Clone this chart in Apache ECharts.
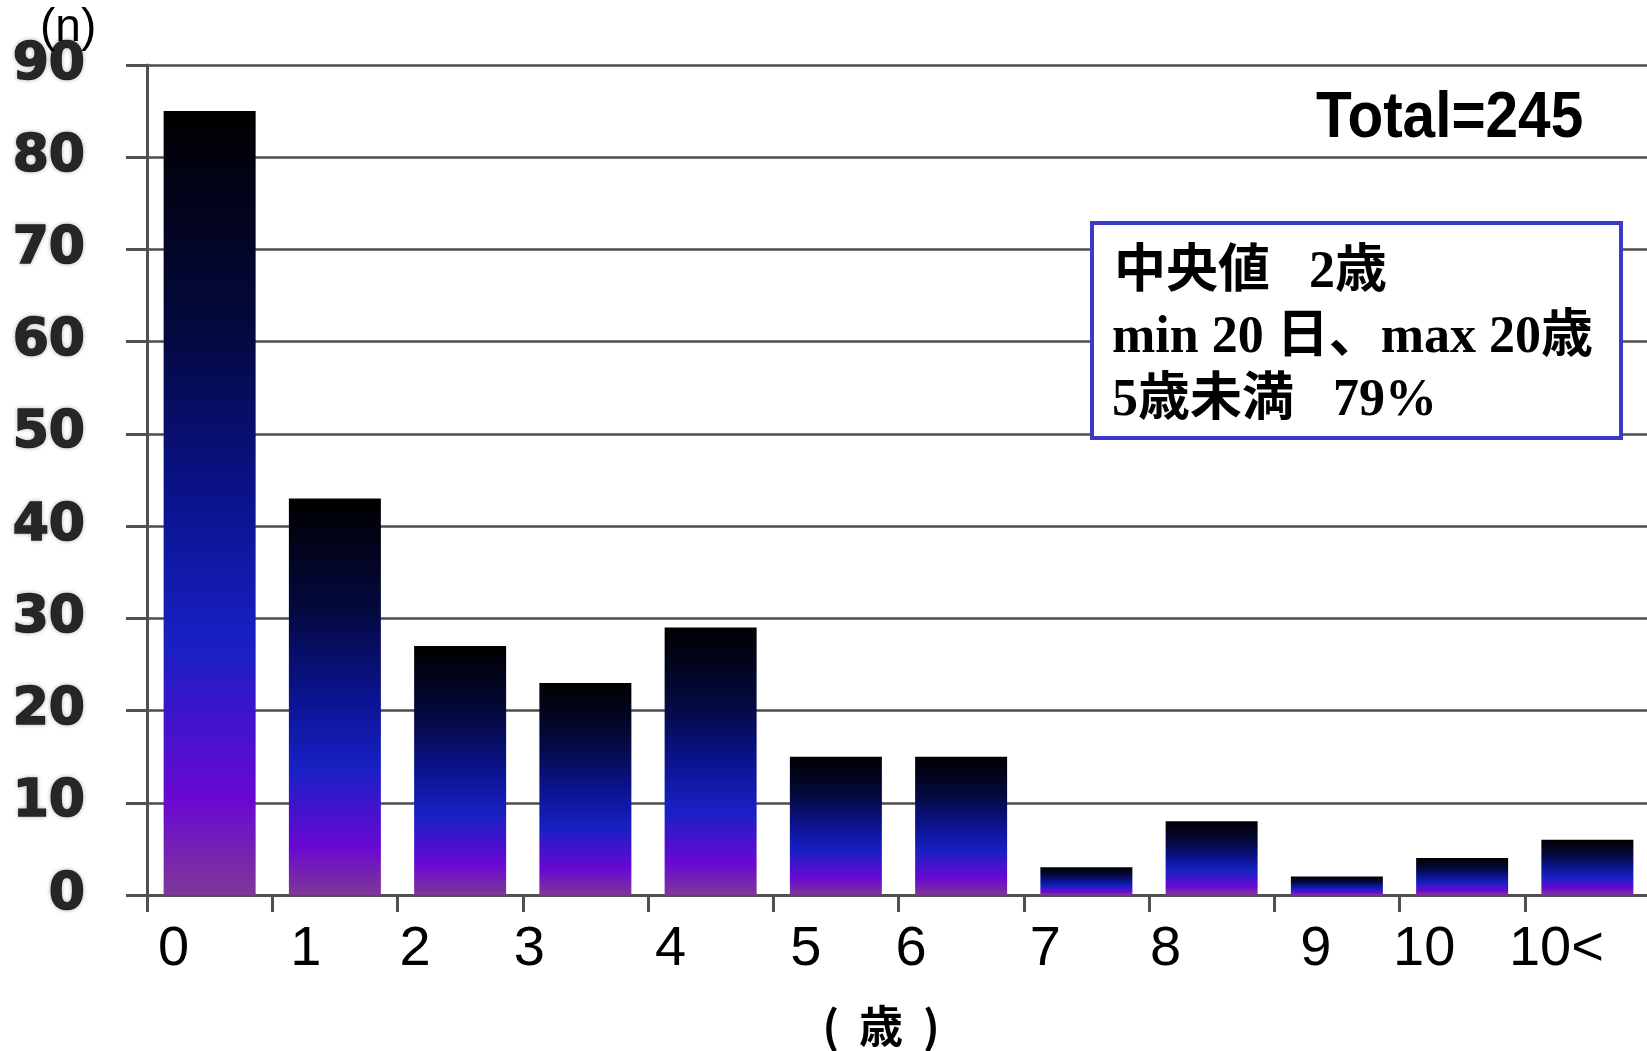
<!DOCTYPE html>
<html>
<head>
<meta charset="utf-8">
<script src="https://cdn.jsdelivr.net/npm/echarts@6/dist/echarts.min.js"></script>
<style>
  html, body { margin: 0; padding: 0; background: #fff; }
  #chart { width: 1647px; height: 1051px; }
</style>
</head>
<body>
<div id="chart"></div>
<script>
// Age groups (years) and number of cases in each
const ageGroups = ['0', '1', '2', '3', '4', '5', '6', '7', '8', '9', '10', '10<'];
const caseCounts = [85, 43, 27, 23, 29, 15, 15, 3, 8, 2, 4, 6];
const yTicks = [0, 10, 20, 30, 40, 50, 60, 70, 80, 90];

const totalText = 'Total=245';
const summaryLines = ['中央値   2歳', 'min 20 日、max 20歳', '5歳未満   79%'];

// Horizontal nudge (px, leftward) for each age label under its bar
const labelNudge = [36, 29, 45, 56, 40, 30, 50, 41, 46, 21, 38, 31];

const rich = {};
labelNudge.forEach((n, i) => {
  rich['s' + i] = {
    fontFamily: '"Liberation Sans", Arial, sans-serif',
    fontSize: 56,
    color: '#000',
    padding: [0, n * 2, 0, 0]
  };
});

const barGradient = new echarts.graphic.LinearGradient(0, 0, 0, 1, [
  { offset: 0, color: '#000000' },
  { offset: 0.28, color: '#04093f' },
  { offset: 0.5, color: '#0b138f' },
  { offset: 0.68, color: '#1820c4' },
  { offset: 0.88, color: '#6a08d2' },
  { offset: 1, color: '#7e3896' }
]);

const summaryFont = 'bold 52px "Liberation Serif", "Noto Sans CJK JP", serif';

const chart = echarts.init(document.getElementById('chart'), null, { renderer: 'canvas' });

chart.setOption({
  backgroundColor: '#ffffff',
  animation: false,
  grid: { left: 147, right: -3, top: 65, bottom: 156, containLabel: false, outerBoundsMode: 'none' },
  xAxis: {
    type: 'category',
    data: ageGroups,
    boundaryGap: true,
    axisLine: { show: true, lineStyle: { color: '#505050', width: 3 } },
    axisTick: { show: true, length: 17, inside: false, lineStyle: { color: '#505050', width: 3 } },
    axisLabel: {
      interval: 0,
      margin: 27,
      formatter: (v, i) => '{s' + i + '|' + v + '}',
      rich: rich
    },
    splitLine: { show: false }
  },
  yAxis: {
    type: 'value',
    min: yTicks[0],
    max: yTicks[yTicks.length - 1],
    interval: 10,
    axisLine: { show: true, lineStyle: { color: '#505050', width: 3 } },
    axisTick: { show: true, length: 21, lineStyle: { color: '#505050', width: 3 } },
    axisLabel: {
      margin: 62,
      fontFamily: '"DejaVu Sans", sans-serif',
      fontWeight: 'bold',
      fontSize: 52,
      color: '#262626',
      textBorderColor: '#262626',
      textBorderWidth: 1.5,
      textShadowColor: 'rgba(0,0,0,0.25)',
      textShadowBlur: 4
    },
    splitLine: { show: true, lineStyle: { color: '#4d4d4d', width: 2.5 } }
  },
  series: [{
    type: 'bar',
    data: caseCounts,
    barWidth: 92,
    itemStyle: { color: barGradient },
    emphasis: { disabled: true }
  }],
  graphic: [
    {
      type: 'text',
      left: 40, top: 5,
      z: 100,
      style: {
        text: '(n)',
        font: '46px "Liberation Sans", Arial, sans-serif',
        fill: '#000'
      }
    },
    {
      type: 'text',
      x: 1316, y: 119,
      scaleX: 0.9,
      z: 100,
      style: {
        text: totalText,
        font: 'bold 65px "Liberation Sans", Arial, sans-serif',
        fill: '#000',
        textAlign: 'left',
        textVerticalAlign: 'middle'
      }
    },
    {
      type: 'rect',
      z: 100,
      shape: { x: 1092, y: 223, width: 529, height: 215 },
      style: { fill: '#ffffff', stroke: '#3a3ac6', lineWidth: 4 }
    },
    {
      type: 'text',
      x: 1114, y: 274, z: 101,
      style: {
        text: summaryLines[0],
        font: summaryFont,
        fill: '#000', textAlign: 'left', textVerticalAlign: 'middle'
      }
    },
    {
      type: 'text',
      x: 1112, y: 339, z: 101,
      style: {
        text: summaryLines[1],
        font: summaryFont,
        fill: '#000', textAlign: 'left', textVerticalAlign: 'middle'
      }
    },
    {
      type: 'text',
      x: 1112, y: 402, z: 101,
      style: {
        text: summaryLines[2],
        font: summaryFont,
        fill: '#000', textAlign: 'left', textVerticalAlign: 'middle'
      }
    },
    {
      type: 'text',
      x: 881, y: 1026, z: 100,
      style: {
        text: '(  歳  )',
        font: 'bold 44px "Noto Sans CJK JP", sans-serif',
        fill: '#000', textAlign: 'center', textVerticalAlign: 'middle'
      }
    }
  ]
});
</script>
</body>
</html>
